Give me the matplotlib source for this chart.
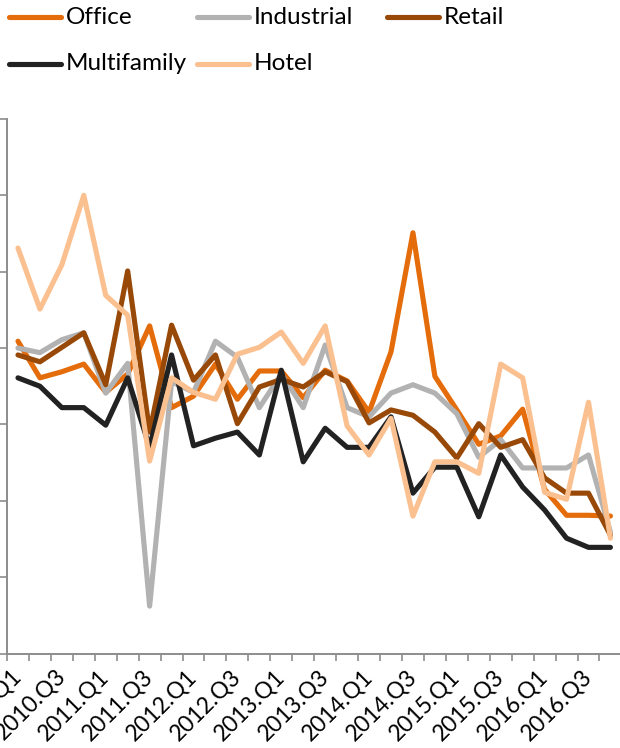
import matplotlib
matplotlib.use("Agg")
import matplotlib.pyplot as plt
from matplotlib.lines import Line2D

plt.rcParams['font.family'] = ['Lato', 'DejaVu Sans']

quarters = [f"{yr}.Q{q}" for yr in range(2010, 2017) for q in range(1, 5)]

office = [8.09, 7.61, 7.69, 7.79, 7.42, 7.66, 8.29, 7.22, 7.37, 7.79, 7.33, 7.70,
          7.70, 7.35, 7.71, 7.57, 7.16, 7.95, 9.51, 7.63, 7.19, 6.74, 6.85, 7.20,
          6.15, 5.81, 5.81, 5.80]
industrial = [8.00, 7.94, 8.11, 8.20, 7.41, 7.80, 4.62, 7.56, 7.42, 8.09, 7.88, 7.22,
              7.66, 7.22, 8.04, 7.22, 7.10, 7.41, 7.52, 7.41, 7.14, 6.57, 6.80, 6.43,
              6.43, 6.43, 6.60, 5.59]
retail = [7.91, 7.82, 8.01, 8.20, 7.52, 9.01, 6.90, 8.30, 7.58, 7.91, 7.01, 7.49,
          7.59, 7.49, 7.69, 7.56, 7.02, 7.19, 7.12, 6.90, 6.56, 7.01, 6.70, 6.80,
          6.30, 6.10, 6.10, 5.55]
multifamily = [7.61, 7.50, 7.22, 7.22, 6.99, 7.61, 6.70, 7.91, 6.72, 6.82, 6.90, 6.60,
               7.71, 6.51, 6.95, 6.70, 6.70, 7.10, 6.10, 6.44, 6.44, 5.79, 6.60, 6.18,
               5.88, 5.51, 5.39, 5.39]
hotel = [9.31, 8.51, 9.09, 10.00, 8.69, 8.43, 6.52, 7.61, 7.42, 7.33, 7.92, 8.01,
         8.21, 7.80, 8.29, 6.98, 6.60, 7.08, 5.80, 6.51, 6.51, 6.36, 7.79, 7.61,
         6.11, 6.02, 7.29, 5.51]

series = [
    ("Office", office, "#E46C0A"),
    ("Industrial", industrial, "#B2B2B2"),
    ("Retail", retail, "#984807"),
    ("Multifamily", multifamily, "#222222"),
    ("Hotel", hotel, "#FBC08F"),
]

W, H = 620, 748
fig = plt.figure(figsize=(W / 100, H / 100), dpi=100)

x0, x1 = 7, 621.4
ytop, ybot = 119, 653.5
ax = fig.add_axes([x0 / W, (H - ybot) / H, (x1 - x0) / W, (ybot - ytop) / H])

xs = list(range(len(quarters)))
for name, vals, color in series:
    ax.plot(xs, vals, color=color, lw=3.7, solid_joinstyle='round',
            solid_capstyle='round', label=name, clip_on=False)

ax.set_xlim(-0.5, len(quarters) - 0.5)
ax.set_ylim(4, 11)

axis_color = "#8C8C8C"
for side in ("top", "right"):
    ax.spines[side].set_visible(False)
for side in ("left", "bottom"):
    ax.spines[side].set_color(axis_color)
    ax.spines[side].set_linewidth(1.4)

ax.set_yticks(range(4, 12))
ax.set_yticklabels([])
ax.tick_params(axis='y', direction='out', length=5.2, width=1.2, color=axis_color)

# category boundaries get the tick marks, every other category gets a label
ax.set_xticks([i - 0.5 for i in range(len(quarters) + 1)])
ax.set_xticklabels([])
ax.tick_params(axis='x', which='major', direction='out', length=5.2, width=1.2,
               color=axis_color)
label_pos = xs[::2]
ax.set_xticks(label_pos, minor=True)
ax.set_xticklabels([quarters[i] for i in label_pos], minor=True, rotation=45,
                   ha='right', va='center', rotation_mode='anchor', fontsize=16.5)
ax.tick_params(axis='x', which='minor', length=0, pad=14)

# legend drawn in pixel positions, two rows
legend_rows = [
    (17, [("Office", "#E46C0A", 7), ("Industrial", "#B2B2B2", 195), ("Retail", "#984807", 385)]),
    (64, [("Multifamily", "#222222", 7), ("Hotel", "#FBC08F", 195)]),
]
for ypix, items in legend_rows:
    yf = (H - ypix) / H
    for name, color, xstart in items:
        fig.add_artist(Line2D([(xstart + 2) / W, (xstart + 54) / W], [yf, yf],
                              color=color, lw=3.7, solid_capstyle='round',
                              transform=fig.transFigure))
        fig.text((xstart + 59) / W, yf, name, fontsize=17.5, va='center',
                 ha='left', color="#000000")

fig.savefig("out.png", dpi=100, facecolor="white")
